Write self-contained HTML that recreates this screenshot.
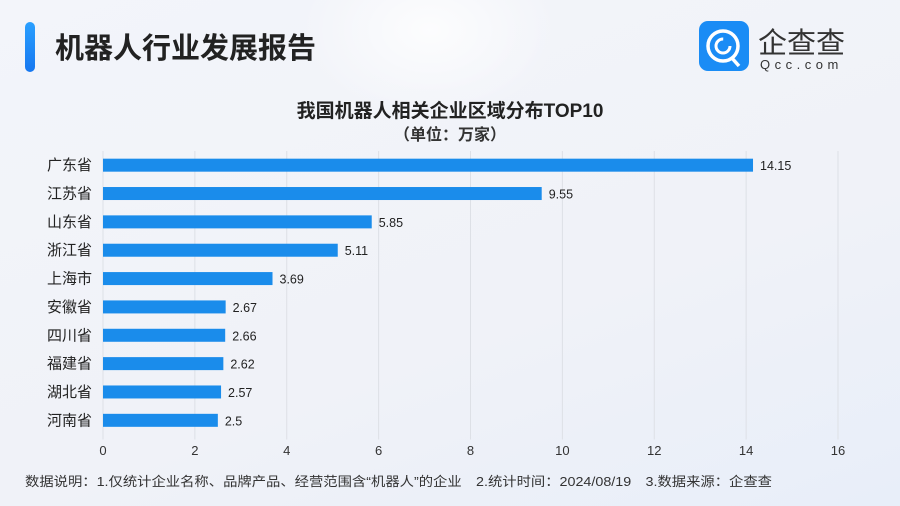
<!DOCTYPE html>
<html><head><meta charset="utf-8"><style>
body{margin:0;width:900px;height:506px;overflow:hidden;font-family:"Liberation Sans","Noto Sans CJK SC",sans-serif;}
#bg{position:absolute;left:0;top:0;width:900px;height:506px;background:linear-gradient(160deg,#f3f5fa 0%,#f0f2f8 60%,#e8eef9 100%);}
</style></head><body>
<div id="bg"></div>
<svg width="900" height="506" style="position:absolute;left:0;top:0">
<defs><radialGradient id="glow" cx="0.5" cy="0.5" r="0.5"><stop offset="0" stop-color="#ffffff" stop-opacity="0.8"/><stop offset="1" stop-color="#ffffff" stop-opacity="0"/></radialGradient>
<linearGradient id="acc" x1="0" y1="0" x2="0" y2="1"><stop offset="0" stop-color="#2aa0ff"/><stop offset="1" stop-color="#1677f0"/></linearGradient></defs>
<ellipse cx="430" cy="30" rx="130" ry="90" fill="url(#glow)"/>
<rect x="25" y="22" width="10" height="50" rx="5" fill="url(#acc)"/>
<text x="55" y="58" font-size="29" font-weight="bold" fill="#222">机器人行业发展报告</text>
<g>
<rect x="699" y="21" width="50" height="50" rx="9" fill="#1a8cf5"/>
<circle cx="723" cy="46" r="15" fill="none" stroke="#fff" stroke-width="3.5"/>
<circle cx="723" cy="46" r="7" fill="none" stroke="#fff" stroke-width="3" stroke-dasharray="33 11"/>
<line x1="731" y1="57" x2="739" y2="66" stroke="#fff" stroke-width="3.5"/>
<text x="758" y="53" font-size="29" fill="#333">企查查</text>
<text x="760" y="69" font-size="13" fill="#333" letter-spacing="4.5">Qcc.com</text>
</g>
<text x="450" y="117" font-size="19" font-weight="bold" fill="#222" text-anchor="middle">我国机器人相关企业区域分布TOP10</text>
<text x="450" y="140" font-size="16" font-weight="bold" fill="#333" text-anchor="middle">（单位：万家）</text>
<g id="grid"></g><g id="bars"></g><g id="ticks"></g>
<text x="25" y="486" font-size="13" fill="#333" textLength="747" lengthAdjust="spacingAndGlyphs">数据说明：1.仅统计企业名称、品牌产品、经营范围含“机器人”的企业　2.统计时间：2024/08/19　3.数据来源：企查查</text>
</svg>
<script>
const categories=["广东省","江苏省","山东省","浙江省","上海市","安徽省","四川省","福建省","湖北省","河南省"];
const values=[14.15,9.55,5.85,5.11,3.69,2.67,2.66,2.62,2.57,2.5];
const tickValues=[0,2,4,6,8,10,12,14,16];
const NS="http://www.w3.org/2000/svg";
const x0=103,x1=838,xMax=16,yTop=151,rowH=28.35,barH=13;
const xs=v=>x0+(x1-x0)*v/xMax;
const ys=i=>yTop+rowH*(i+0.5);
function mk(tag,attrs,parent,txt){const e=document.createElementNS(NS,tag);for(const k in attrs)e.setAttribute(k,attrs[k]);if(txt!==undefined)e.textContent=txt;document.getElementById(parent).appendChild(e);return e;}
tickValues.forEach(t=>{
 const l=mk('line',{x1:xs(t),x2:xs(t),y1:yTop,y2:yTop+rowH*categories.length+5,stroke:'#dde0e6','stroke-width':1},'grid');
 
 
 const tx=mk('text',{x:xs(t),y:455,'font-size':13,fill:'#333','text-anchor':'middle'},'ticks',String(t));
 
 
});
categories.forEach((c,i)=>{
 const y=ys(i);
 const lb=mk('text',{x:92,y:y+5,'font-size':15,fill:'#222','text-anchor':'end'},'bars',c);
 
 
 const r=mk('rect',{x:x0,y:y-barH/2,width:xs(values[i])-x0,height:barH,fill:'#1a8ceb'},'bars');
 
 
 const v=mk('text',{x:xs(values[i])+7,y:y+5,'font-size':12.5,fill:'#222'},'bars',String(values[i]));
 
 
});
</script>
</body></html>
